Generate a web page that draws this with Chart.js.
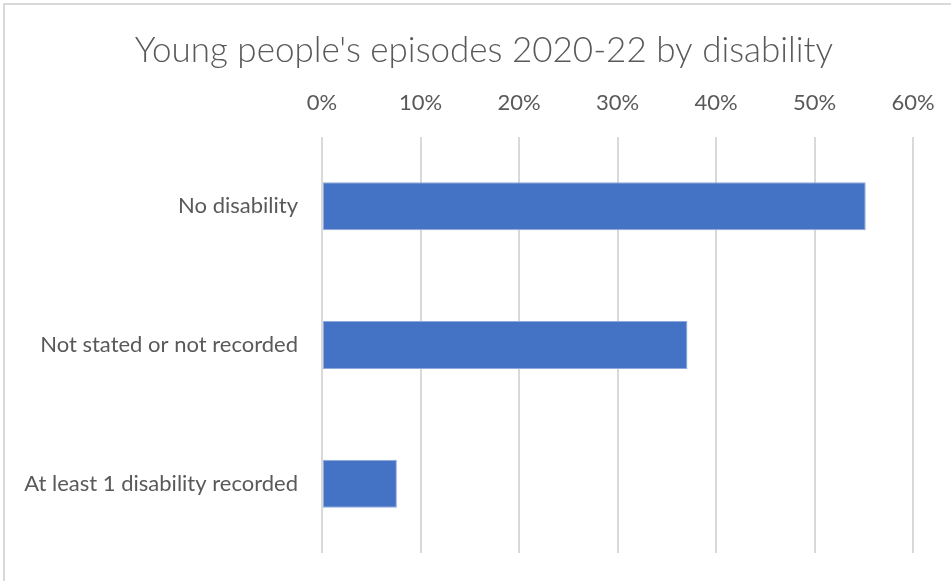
<!DOCTYPE html>
<html>
<head>
<meta charset="utf-8">
<script src="https://cdn.jsdelivr.net/npm/chart.js@4"></script>
<style>
  body { margin: 0; background: #fff; }
  #wrap { position: relative; width: 951px; height: 581px; overflow: hidden; }
  #frame { position: absolute; left: 3px; top: 3px; width: 960px; height: 600px;
           border-left: 2px solid #d9d9d9; border-top: 2px solid #d9d9d9; }
  canvas { position: absolute; left: 0; top: 0; }
</style>
</head>
<body>
<div id="wrap">
  <div id="frame"></div>
  <canvas id="myChart" width="951" height="581"></canvas>
</div>
<script>
// data
const categories = ['No disability', 'Not stated or not recorded', 'At least 1 disability recorded'];
const shares = [0.552, 0.371, 0.076];
const tickValues = [0, 0.1, 0.2, 0.3, 0.4, 0.5, 0.6];

const grey = '#595959';
const fontFamily = 'Lato, "Open Sans", sans-serif';

// excel centres the title over the whole chart, not over the padded box
const shiftTitle = {
    id: 'shiftTitle',
    afterLayout(chart) {
        if (chart.titleBlock) chart.titleBlock.left = 55;
    }
};

const ctx = document.getElementById('myChart');
const chart = new Chart(ctx, {
    type: 'bar',
    data: {
        labels: categories,
        datasets: [{
            label: 'Share of episodes',
            data: shares,
            backgroundColor: '#4472c4',
            borderColor: '#8faadc',
            borderWidth: 1,
            borderSkipped: false,
            categoryPercentage: 1,
            barPercentage: 0.346
        }]
    },
    plugins: [shiftTitle],
    options: {
        indexAxis: 'y',
        responsive: false,
        animation: false,
        layout: { padding: { top: 30, left: 10, right: 38, bottom: 28 } },
        plugins: {
            legend: { display: false },
            tooltip: { enabled: false },
            title: {
                display: true,
                text: "Young people's episodes 2020-22 by disability",
                color: grey,
                font: { family: fontFamily, size: 35, weight: 300 },
                padding: { top: 0, bottom: 0 }
            }
        },
        scales: {
            x: {
                position: 'top',
                min: 0,
                max: 0.6,
                afterBuildTicks: (scale) => { scale.ticks = tickValues.map(v => ({ value: v })); },
                afterFit: (scale) => {
                    scale.height = 65;
                    scale.paddingLeft = 0;
                    scale.paddingRight = 0;
                },
                ticks: {
                    color: grey,
                    font: { family: fontFamily, size: 22 },
                    padding: 21,
                    callback: (v) => Math.round(v * 100) + '%'
                },
                grid: { color: '#d9d9d9', lineWidth: 2, drawTicks: false },
                border: { display: false }
            },
            y: {
                afterFit: (scale) => {
                    scale.width = 312;
                    scale.paddingTop = 0;
                    scale.paddingBottom = 0;
                },
                ticks: {
                    color: grey,
                    font: { family: fontFamily, size: 22 },
                    padding: 24
                },
                grid: { display: false, drawTicks: false },
                border: { display: false }
            }
        }
    }
});
</script>
</body>
</html>
